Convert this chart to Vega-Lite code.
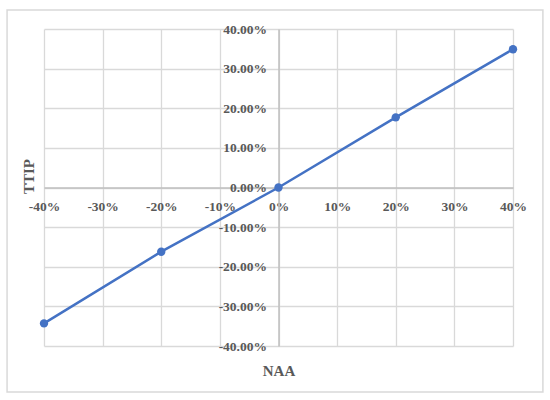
{
  "$schema": "https://vega.github.io/schema/vega-lite/v6.json",
  "autosize": "none",
  "width": 469,
  "height": 317,
  "padding": {"left": 44, "top": 29, "right": 37, "bottom": 54},
  "background": "white",
  "config": {
    "locale": {"number": {"decimal": ".", "thousands": ",", "grouping": [3], "currency": ["$", ""], "minus": "-"}},
    "view": {"stroke": null},
    "axis": {
      "labelFont": "Liberation Serif",
      "labelFontSize": 13.5,
      "labelFontWeight": "bold",
      "labelColor": "#595959",
      "titleFont": "Liberation Serif",
      "titleFontSize": 15,
      "titleFontWeight": "bold",
      "titleColor": "#595959",
      "gridColor": "#d9d9d9",
      "gridWidth": 1.3,
      "domainColor": "#bfbfbf",
      "domainWidth": 1.5,
      "ticks": false,
      "labelOverlap": false,
      "labelFlush": false
    }
  },
  "resolve": {"axis": {"x": "independent", "y": "independent"}},
  "data": {
    "values": [
      {"NAA": -0.4, "TTIP": -0.343},
      {"NAA": -0.2, "TTIP": -0.162},
      {"NAA": 0.0, "TTIP": 0.0},
      {"NAA": 0.2, "TTIP": 0.177},
      {"NAA": 0.4, "TTIP": 0.349}
    ]
  },
  "layer": [
    {
      "mark": {"type": "line", "color": "#4472c4", "strokeWidth": 2.5},
      "encoding": {
        "x": {
          "field": "NAA", "type": "quantitative",
          "scale": {"domain": [-0.4, 0.4], "nice": false, "zero": false},
          "axis": {
            "orient": "bottom",
            "values": [-0.4, -0.3, -0.2, -0.1, 0, 0.1, 0.2, 0.3, 0.4],
            "grid": true,
            "labels": false,
            "domain": false,
            "title": "NAA",
            "titleY": 24,
            "titleBaseline": "middle"
          }
        },
        "y": {
          "field": "TTIP", "type": "quantitative",
          "scale": {"domain": [-0.4, 0.4], "nice": false, "zero": false},
          "axis": {
            "orient": "left",
            "values": [-0.4, -0.3, -0.2, -0.1, 0, 0.1, 0.2, 0.3, 0.4],
            "grid": true,
            "labels": false,
            "domain": false,
            "title": "TTIP",
            "titleX": -16,
            "titleY": 147,
            "titleBaseline": "middle"
          }
        }
      }
    },
    {
      "mark": {"type": "point", "filled": true, "color": "#4472c4", "size": 70, "opacity": 1},
      "encoding": {
        "x": {
          "field": "NAA", "type": "quantitative",
          "axis": {
            "orient": "bottom",
            "values": [-0.4, -0.3, -0.2, -0.1, 0, 0.1, 0.2, 0.3, 0.4],
            "format": ".0%",
            "grid": false,
            "offset": -158.5,
            "labelPadding": 12,
            "labelOverlap": false,
            "title": null
          }
        },
        "y": {
          "field": "TTIP", "type": "quantitative",
          "axis": {
            "orient": "left",
            "values": [-0.4, -0.3, -0.2, -0.1, 0, 0.1, 0.2, 0.3, 0.4],
            "format": ".2%",
            "grid": false,
            "offset": -234.5,
            "labelPadding": 12,
            "labelOverlap": false,
            "title": null
          }
        }
      }
    },
    {
      "data": {"values": [{}]},
      "mark": {"type": "rect", "fill": null, "stroke": "#d9d9d9", "strokeWidth": 1.5, "clip": false},
      "encoding": {
        "x": {"datum": -0.463, "type": "quantitative", "axis": null},
        "x2": {"datum": 0.451},
        "y": {"datum": 0.448, "type": "quantitative", "axis": null},
        "y2": {"datum": -0.516}
      }
    }
  ]
}
